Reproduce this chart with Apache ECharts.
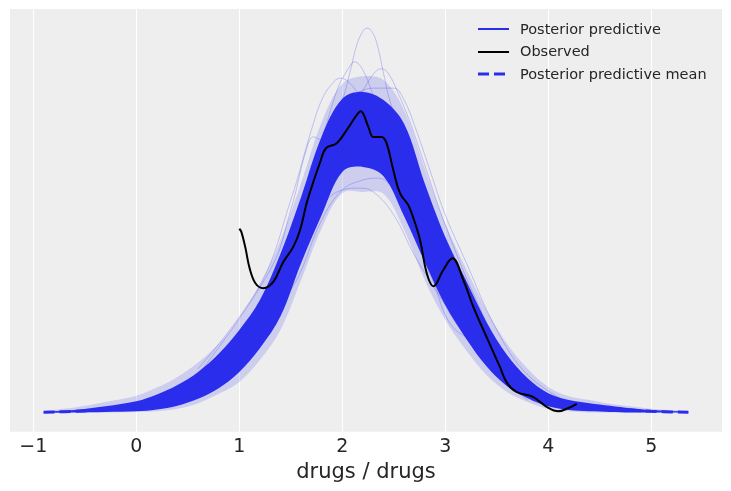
<!DOCTYPE html>
<html><head><meta charset="utf-8">
<script src="https://cdn.jsdelivr.net/npm/echarts@6/dist/echarts.min.js"></script>
<style>html,body{margin:0;padding:0;background:#fff}#c{width:731px;height:491px}</style>
</head><body><div id="c"></div>
<script>
// ---- data ----
const xTicks = [-1, 0, 1, 2, 3, 4, 5];
const gridX = [-0.9,-0.6,-0.3,0,0.2,0.4,0.6,0.8,1.0,1.2,1.4,1.6,1.8,2.0,2.2,2.4,2.6,2.8,3.0,3.2,3.4,3.6,3.8,4.0,4.2,4.4,4.6,4.8,5.0,5.36];
// dense (solid) part of the posterior predictive curves
const bandUpper = [0.001,0.004,0.010,0.018,0.029,0.044,0.065,0.094,0.132,0.180,0.254,0.345,0.442,0.502,0.513,0.500,0.462,0.367,0.281,0.212,0.145,0.092,0.055,0.031,0.020,0.015,0.011,0.007,0.004,0.001];
const bandLower = [0,0,0.001,0.002,0.005,0.011,0.022,0.039,0.065,0.103,0.154,0.239,0.316,0.385,0.393,0.378,0.314,0.241,0.172,0.119,0.074,0.042,0.023,0.010,0.004,0.002,0.001,0,0,0];
// faint outer spread of the posterior predictive curves
const hazeUpper = [0.002,0.008,0.017,0.027,0.040,0.057,0.080,0.110,0.151,0.204,0.276,0.367,0.465,0.526,0.538,0.532,0.484,0.391,0.302,0.231,0.164,0.110,0.070,0.041,0.026,0.020,0.014,0.010,0.006,0.002];
const hazeLower = [0,0,0,0.001,0.002,0.006,0.015,0.030,0.049,0.084,0.132,0.212,0.295,0.351,0.353,0.350,0.292,0.212,0.148,0.100,0.060,0.033,0.017,0.006,0.002,0,0,0,0,0];
// posterior predictive mean
const ppMean = [0.0004,0.002,0.005,0.010,0.017,0.028,0.044,0.066,0.098,0.142,0.204,0.292,0.379,0.443,0.453,0.439,0.388,0.304,0.226,0.166,0.110,0.067,0.039,0.021,0.012,0.008,0.006,0.004,0.002,0.0004];
// individual outlying posterior predictive curves
const ppTall = [[0.5,0.030],[1.0,0.097],[1.4,0.212],[1.7,0.356],[1.9,0.468],[2.0,0.500],[2.08,0.548],[2.14,0.588],[2.2,0.610],[2.24,0.615],[2.29,0.609],[2.34,0.588],[2.4,0.543],[2.46,0.500],[2.55,0.460],[2.7,0.396],[3.0,0.260],[3.4,0.119],[3.8,0.041],[4.2,0.012]];
const ppPeakLeft = [[1.0,0.100],[1.5,0.292],[1.8,0.436],[1.95,0.516],[2.05,0.548],[2.12,0.561],[2.2,0.548],[2.3,0.508],[2.45,0.452],[2.7,0.356],[3.0,0.260],[3.4,0.124],[3.8,0.040]];
const ppPeakRight = [[1.0,0.090],[1.4,0.200],[1.8,0.388],[2.1,0.484],[2.25,0.529],[2.32,0.545],[2.38,0.550],[2.45,0.542],[2.55,0.508],[2.65,0.468],[2.8,0.396],[3.0,0.300],[3.3,0.180],[3.6,0.084],[4.0,0.025]];
const ppEarly = [[0.6,0.070],[1.2,0.204],[1.5,0.340],[1.7,0.452],[1.8,0.500],[1.9,0.526],[1.98,0.535],[2.06,0.529],[2.2,0.500],[2.4,0.452],[2.7,0.364],[3.0,0.260],[3.4,0.120],[3.8,0.040]];
const ppShoulder = [[0.6,0.060],[1.3,0.228],[1.5,0.324],[1.65,0.420],[1.72,0.441],[1.8,0.436],[1.9,0.455],[2.05,0.492],[2.2,0.503],[2.4,0.476],[2.7,0.380],[3.0,0.270],[3.4,0.130],[3.8,0.040]];
const ppWide = [[0.6,0.060],[1.2,0.170],[1.6,0.330],[2.0,0.484],[2.3,0.519],[2.5,0.519],[2.6,0.500],[2.7,0.460],[2.85,0.388],[3.0,0.316],[3.2,0.241],[3.5,0.132],[3.8,0.060],[4.2,0.015]];
const ppLow = [[0.6,0.050],[1.2,0.116],[1.5,0.212],[1.7,0.292],[1.85,0.340],[2.0,0.356],[2.15,0.359],[2.3,0.353],[2.5,0.316],[2.7,0.252],[3.0,0.172],[3.4,0.076],[3.8,0.020]];
const ppLowRight = [[0.8,0.050],[1.5,0.196],[1.8,0.308],[2.0,0.356],[2.2,0.372],[2.35,0.375],[2.5,0.356],[2.7,0.284],[2.9,0.204],[3.2,0.120],[3.6,0.045]];
const ppDip = [[1.0,0.070],[1.6,0.280],[2.0,0.400],[2.2,0.420],[2.5,0.364],[2.6,0.340],[2.8,0.260],[2.9,0.204],[3.0,0.156],[3.1,0.132],[3.2,0.121],[3.35,0.100],[3.6,0.052],[3.9,0.023],[4.2,0.008]];
// observed density
const observed = [[1.00,0.294],[1.02,0.289],[1.06,0.263],[1.10,0.231],[1.16,0.206],[1.233,0.199],[1.33,0.209],[1.427,0.241],[1.524,0.265],[1.59,0.292],[1.654,0.335],[1.703,0.361],[1.784,0.400],[1.842,0.423],[1.946,0.431],[2.043,0.452],[2.14,0.476],[2.178,0.482],[2.253,0.457],[2.30,0.441],[2.383,0.441],[2.43,0.431],[2.495,0.388],[2.56,0.351],[2.64,0.332],[2.69,0.311],[2.755,0.276],[2.82,0.223],[2.884,0.202],[2.98,0.228],[3.068,0.247],[3.175,0.212],[3.272,0.169],[3.40,0.121],[3.53,0.073],[3.60,0.047],[3.69,0.033],[3.85,0.025],[3.985,0.009],[4.097,0.002],[4.18,0.006],[4.276,0.014]];
const legendNames = ['Posterior predictive', 'Observed', 'Posterior predictive mean'];
const axisTitle = 'drugs / drugs';

// ---- chart ----
const BLUE = '#2a2eec';
const FONT = '"DejaVu Sans", sans-serif';
const chart = echarts.init(document.getElementById('c'), null, {renderer: 'canvas'});

function pairs(ys) { return gridX.map((x, i) => [x, ys[i]]); }

// filled region between two envelopes, positioned through the axes
function bandSeries(name, lower, upper, opacity, z) {
  return {
    type: 'custom', name: name, z: z, silent: true, clip: true,
    data: gridX.map((x, i) => [x, lower[i], upper[i]]),
    encode: {x: 0, y: [1, 2]},
    renderItem: function (params, api) {
      if (params.dataIndex !== 0) return null;
      const top = gridX.map((x, i) => api.coord([x, upper[i]]));
      const bot = gridX.map((x, i) => api.coord([x, lower[i]])).reverse();
      return {
        type: 'polygon',
        shape: {points: top.concat(bot), smooth: 0.35},
        style: {fill: BLUE, opacity: opacity}
      };
    }
  };
}

const faint = [ppLow, ppLowRight, ppDip, ppShoulder, ppEarly, ppWide, ppPeakLeft, ppPeakRight, ppTall];

const series = [bandSeries('haze', hazeLower, hazeUpper, 0.17, 1)];
faint.forEach((c, i) => series.push({
  type: 'line', name: 'pp' + i, data: c, smooth: 0.4, symbol: 'none',
  lineStyle: {color: BLUE, width: 1, opacity: 0.25}, silent: true, z: 2
}));
series.push(
  bandSeries(legendNames[0], bandLower, bandUpper, 1, 3),
  {type: 'line', name: legendNames[2], data: pairs(ppMean), smooth: 0.4, symbol: 'none',
   lineStyle: {color: BLUE, width: 3, type: [11, 5]}, silent: true, z: 4},
  {type: 'line', name: legendNames[1], data: observed, smooth: 0.4, symbol: 'none',
   lineStyle: {color: '#000', width: 2}, silent: true, z: 5}
);

const legendGraphic = [
  {type: 'line', z: 100, shape: {x1: 478, y1: 29, x2: 509, y2: 29}, style: {stroke: BLUE, lineWidth: 2}},
  {type: 'text', z: 100, x: 520, y: 30.5, style: {text: legendNames[0], font: '14.5px ' + FONT, fill: '#262626', verticalAlign: 'middle'}},
  {type: 'line', z: 100, shape: {x1: 478, y1: 52, x2: 509, y2: 52}, style: {stroke: '#000', lineWidth: 2}},
  {type: 'text', z: 100, x: 520, y: 52.5, style: {text: legendNames[1], font: '14.5px ' + FONT, fill: '#262626', verticalAlign: 'middle'}},
  {type: 'line', z: 100, shape: {x1: 478, y1: 74, x2: 509, y2: 74}, style: {stroke: BLUE, lineWidth: 3, lineDash: [11, 5]}},
  {type: 'text', z: 100, x: 520, y: 75, style: {text: legendNames[2], font: '14.5px ' + FONT, fill: '#262626', verticalAlign: 'middle'}}
];

chart.setOption({
  animation: false,
  backgroundColor: '#ffffff',
  grid: {left: 10, right: 9, top: 9, bottom: 59.3, show: true, backgroundColor: '#eeeeee', borderWidth: 0},
  xAxis: {
    type: 'value', min: -1.2262, max: 5.6864, minInterval: 1, maxInterval: 1, splitNumber: 7,
    axisLine: {show: false}, axisTick: {show: false},
    axisLabel: {
      color: '#262626', fontFamily: FONT, fontSize: 19, margin: 6,
      showMinLabel: false, showMaxLabel: false,
      formatter: v => xTicks.indexOf(v) >= 0 ? (v < 0 ? '\u2212' + Math.abs(v) : String(v)) : ''
    },
    splitLine: {show: true, showMinLine: false, showMaxLine: false, lineStyle: {color: '#ffffff', width: 1.1}},
    name: axisTitle, nameLocation: 'middle', nameGap: 30,
    nameTextStyle: {color: '#262626', fontFamily: FONT, fontSize: 21}
  },
  yAxis: {
    type: 'value', min: -0.0307, max: 0.6456, show: false, splitLine: {show: false}
  },
  graphic: legendGraphic,
  series: series
});
</script></body></html>
